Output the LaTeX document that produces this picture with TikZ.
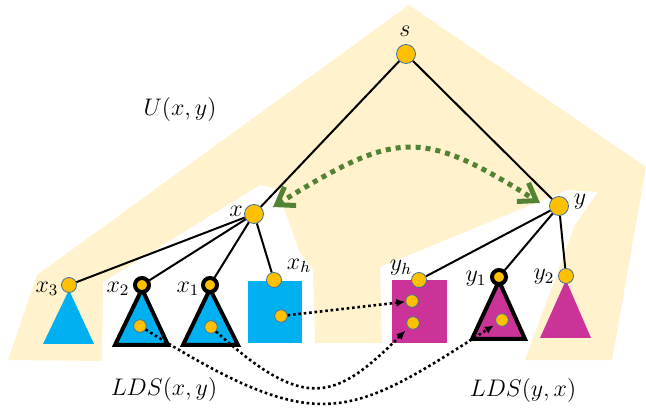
\documentclass[tikz,border=0pt]{standalone}
\usepackage{amsmath}
\usepackage{amssymb}
\usetikzlibrary{arrows.meta,calc}
\definecolor{beige}{HTML}{FFF2CC}
\definecolor{nodeorange}{HTML}{FFC000}
\definecolor{nodeedge}{HTML}{41719C}
\definecolor{subcyan}{HTML}{00B0F0}
\definecolor{submagenta}{HTML}{CC3399}
\definecolor{arrowgreen}{HTML}{548235}

\begin{document}
\begin{tikzpicture}[
    x=0.5pt, y=-0.5pt,
    >=Stealth,
    uregion/.style={fill=beige},
    vtx/.style={circle, fill=nodeorange, draw=nodeedge, line width=0.4pt, inner sep=0pt, minimum size=7.5pt},
    bigvtx/.style={vtx, minimum size=9.5pt},
    ringvtx/.style={vtx, draw=black, line width=2pt, minimum size=7pt},
    innerdot/.style={vtx, minimum size=6.3pt},
    treeedge/.style={line width=1pt},
    heavy/.style={draw=black, line width=2pt, line join=miter},
    lbl/.style={font=\large, inner sep=1pt},
    swaparrow/.style={{Straight Barb[length=8pt,width=11pt]}-{Straight Barb[length=8pt,width=11pt]}, arrowgreen, line width=2.5pt, dash pattern=on 2.5pt off 2.5pt},
    moveline/.style={-{Latex[length=4.5pt,width=4pt]}, line width=1.3pt, dash pattern=on 1.3pt off 1.4pt}
  ]
  \useasboundingbox (0,0) rectangle (646,410);

  % Region U(x,y)
  \fill[uregion] (8,360) -- (37,275) -- (409,5) -- (646,167) -- (612,360)
    -- (525,360) -- (575,225) -- (598,192) -- (567,190) -- (380,267)
    -- (382,343) -- (315,343) -- (313,270) -- (300,253) -- (277,189)
    -- (260,185) -- (103,282) -- (102,361) -- cycle;

  % Subtrees below x
  \fill[subcyan] (69,290) -- (94,344) -- (43,344) -- cycle;
  \filldraw[fill=subcyan, heavy] (142,289) -- (168,345) -- (115,345) -- cycle;
  \filldraw[fill=subcyan, heavy] (210,289) -- (238,345) -- (183,345) -- cycle;
  \fill[subcyan] (248,281) rectangle (302,343);

  % Subtrees below y
  \fill[submagenta] (392,280) rectangle (447,343);
  \filldraw[fill=submagenta, heavy] (499,281) -- (525,339) -- (472,339) -- cycle;
  \fill[submagenta] (566,280) -- (591,338) -- (540,338) -- cycle;

  % Tree nodes
  \node[bigvtx] (s) at (406,54) {};
  \node[bigvtx] (x) at (254,214) {};
  \node[bigvtx] (y) at (559,206) {};
  \node[vtx] (x3) at (69,285) {};
  \node[ringvtx] (x2) at (142,285) {};
  \node[ringvtx] (x1) at (210,285) {};
  \node[vtx] (xh) at (274,280) {};
  \node[vtx] (yh) at (419,280) {};
  \node[ringvtx] (y1) at (499,277) {};
  \node[vtx] (y2) at (566,276) {};

  % Nodes inside the subtrees
  \node[innerdot] (x2d) at (140,326) {};
  \node[innerdot] (x1d) at (211,327) {};
  \node[innerdot] (xhd) at (281,316) {};
  \node[innerdot] (yhd1) at (412,301) {};
  \node[innerdot] (yhd2) at (413,323) {};
  \node[innerdot] (y1d) at (502,320) {};

  % Tree edges
  \foreach \a/\b in {s/x, s/y, x/x3, x/x2, x/x1, x/xh, y/yh, y/y1, y/y2}
    \draw[treeedge] (\a) -- (\b);

  % Labels
  \node[lbl] (slbl) at (405,31) {$s$};
  \node[lbl] (xlbl) at (236,211) {$x$};
  \node[lbl] (ylbl) at (580,202) {$y$};
  \node[lbl] (x3lbl) at (47,289) {$x_3$};
  \node[lbl] (x2lbl) at (118,289) {$x_2$};
  \node[lbl] (x1lbl) at (188,289) {$x_1$};
  \node[lbl] (xhlbl) at (299,266) {$x_h$};
  \node[lbl] (yhlbl) at (401,268) {$y_h$};
  \node[lbl] (y1lbl) at (476,279) {$y_1$};
  \node[lbl] (y2lbl) at (544,277) {$y_2$};
  \node[lbl] (ulbl) at (180,110) {$U(x,y)$};
  \node[lbl] (ldsx) at (164,389) {$LDS(x,y)$};
  \node[lbl] (ldsy) at (523,390) {$LDS(y,x)$};

  % Swap between x and y
  \coordinate (gx) at (273,207);
  \coordinate (gy) at (540,203);
  \draw[swaparrow] (gx) .. controls (398,129) and (422,129) .. (gy);

  % Moves into the subtrees of y
  \draw[moveline] (xhd) -- (yhd1);
  \draw[moveline, shorten >=2pt] (x1d) .. controls (305,412) and (335,401) .. (yhd2);
  \draw[moveline, shorten >=1.5pt] (x2d) .. controls (319,438) and (348,419) .. (y1d);
\end{tikzpicture}
\end{document}
